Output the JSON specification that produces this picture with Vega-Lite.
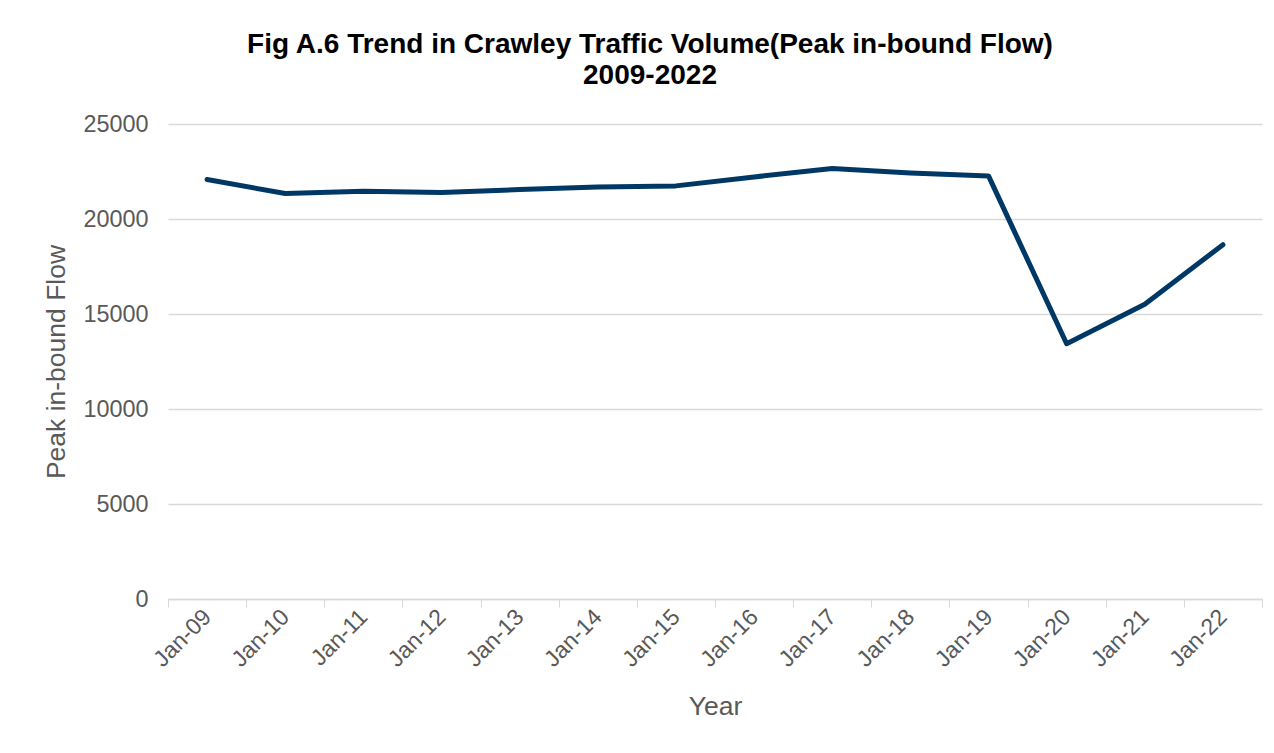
{
  "$schema": "https://vega.github.io/schema/vega-lite/v6.json",
  "width": 1094,
  "height": 475,
  "autosize": {"type": "none"},
  "padding": {"left": 168, "top": 124, "right": 12, "bottom": 154},
  "background": "white",
  "title": {
    "text": ["Fig A.6 Trend in Crawley Traffic Volume(Peak in-bound Flow)", "2009-2022"],
    "font": "Liberation Sans",
    "fontSize": 28,
    "fontWeight": "bold",
    "color": "#000000",
    "anchor": "middle",
    "dx": -65,
    "offset": 22,
    "lineHeight": 31
  },
  "data": {
    "values": [
      {"Year": "Jan-09", "Flow": 22077},
      {"Year": "Jan-10", "Flow": 21338},
      {"Year": "Jan-11", "Flow": 21461},
      {"Year": "Jan-12", "Flow": 21391},
      {"Year": "Jan-13", "Flow": 21549},
      {"Year": "Jan-14", "Flow": 21690},
      {"Year": "Jan-15", "Flow": 21743},
      {"Year": "Jan-16", "Flow": 22214},
      {"Year": "Jan-17", "Flow": 22654},
      {"Year": "Jan-18", "Flow": 22425},
      {"Year": "Jan-19", "Flow": 22267},
      {"Year": "Jan-20", "Flow": 13436},
      {"Year": "Jan-21", "Flow": 15510},
      {"Year": "Jan-22", "Flow": 18647}
    ]
  },
  "mark": {"type": "line", "color": "#003865", "strokeWidth": 5, "strokeCap": "round", "strokeJoin": "round"},
  "encoding": {
    "x": {
      "field": "Year",
      "type": "ordinal",
      "sort": null,
      "scale": {"type": "band", "paddingInner": 0, "paddingOuter": 0},
      "bandPosition": 0.5,
      "axis": {
        "title": "Year",
        "titleFont": "Liberation Sans",
        "titleFontSize": 26.5,
        "titleFontWeight": "normal",
        "titleColor": "#595959",
        "titlePadding": 22,
        "labelFont": "Liberation Sans",
        "labelFontSize": 23,
        "labelColor": "#595959",
        "labelAngle": -45,
        "labelAlign": "right",
        "labelBaseline": "middle",
        "labelPadding": 6,
        "tickBand": "extent",
        "ticks": true,
        "tickColor": "#d9d9d9",
        "tickSize": 8,
        "domainColor": "#d9d9d9",
        "domainWidth": 1.5,
        "grid": false
      }
    },
    "y": {
      "field": "Flow",
      "type": "quantitative",
      "scale": {"domain": [0, 25000], "nice": false},
      "axis": {
        "title": "Peak in-bound Flow",
        "titleFont": "Liberation Sans",
        "titleFontSize": 26.5,
        "titleFontWeight": "normal",
        "titleColor": "#595959",
        "titlePadding": 12,
        "labelFont": "Liberation Sans",
        "labelFontSize": 23.4,
        "labelColor": "#595959",
        "labelPadding": 20,
        "values": [0, 5000, 10000, 15000, 20000, 25000],
        "format": "d",
        "ticks": false,
        "domain": false,
        "grid": true,
        "gridColor": "#d9d9d9",
        "gridWidth": 1.5
      }
    }
  },
  "config": {"view": {"stroke": null}}
}
